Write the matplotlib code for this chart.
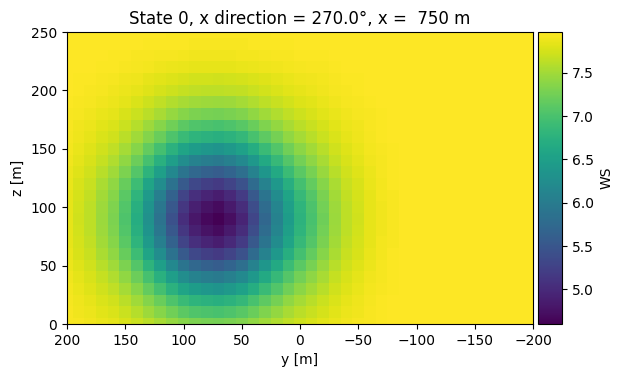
import numpy as np
import matplotlib
matplotlib.use("Agg")
import matplotlib.pyplot as plt

# grid coordinates (cell centres)
y_coords = list(range(200, -201, -10))   # 41 values, 200 ... -200
z_coords = list(range(0, 251, 10))       # 26 values, 0 ... 250

# wind speed read along y at hub height (z = 90 m), y = 200 ... -200
ws_along_y = [7.84, 7.73, 7.63, 7.46, 7.30, 7.03, 6.69, 6.29, 5.88, 5.44,
              5.04, 4.80, 4.67, 4.60, 4.73, 4.94, 5.31, 5.71, 6.08, 6.45,
              6.76, 6.99, 7.23, 7.46, 7.63, 7.73, 7.84, 7.90, 7.94,
              7.97, 7.97, 7.97, 7.97, 7.97, 7.97, 7.97, 7.97, 7.97, 7.97,
              7.97, 7.97]

# wind speed read along z through the wake centre (y = 70 m), z = 0 ... 250
ws_along_z = [7.26, 6.99, 6.72, 6.35, 5.98, 5.58, 5.17, 4.87, 4.70, 4.60,
              4.70, 4.87, 5.17, 5.58, 5.98, 6.35, 6.72, 6.99, 7.26, 7.46,
              7.63, 7.73, 7.84, 7.90, 7.94, 7.95]

ws_free = 7.97
ws_min = 4.60

title = "State 0, x direction = 270.0°, x =  750 m"

# build the 2-D table from the two profiles
dy = ws_free - np.array(ws_along_y)
dz = ws_free - np.array(ws_along_z)
WS = ws_free - np.outer(dz, dy) / (ws_free - ws_min)

fig = plt.figure(figsize=(6.22, 3.77), dpi=100)
ax = fig.add_axes([67/622, 53/377, 466/622, 292/377])
cax = fig.add_axes([538/622, 53/377, 24/622, 292/377])

mesh = ax.pcolormesh(np.array(y_coords), np.array(z_coords), WS,
                     cmap="viridis", shading="nearest")
ax.set_xlim(200, -200)
ax.set_ylim(0, 250)
ax.set_xlabel("y [m]")
ax.set_ylabel("z [m]")
ax.set_title(title)

cb = fig.colorbar(mesh, cax=cax)
cb.set_label("WS")

fig.savefig("out.png", dpi=100)
